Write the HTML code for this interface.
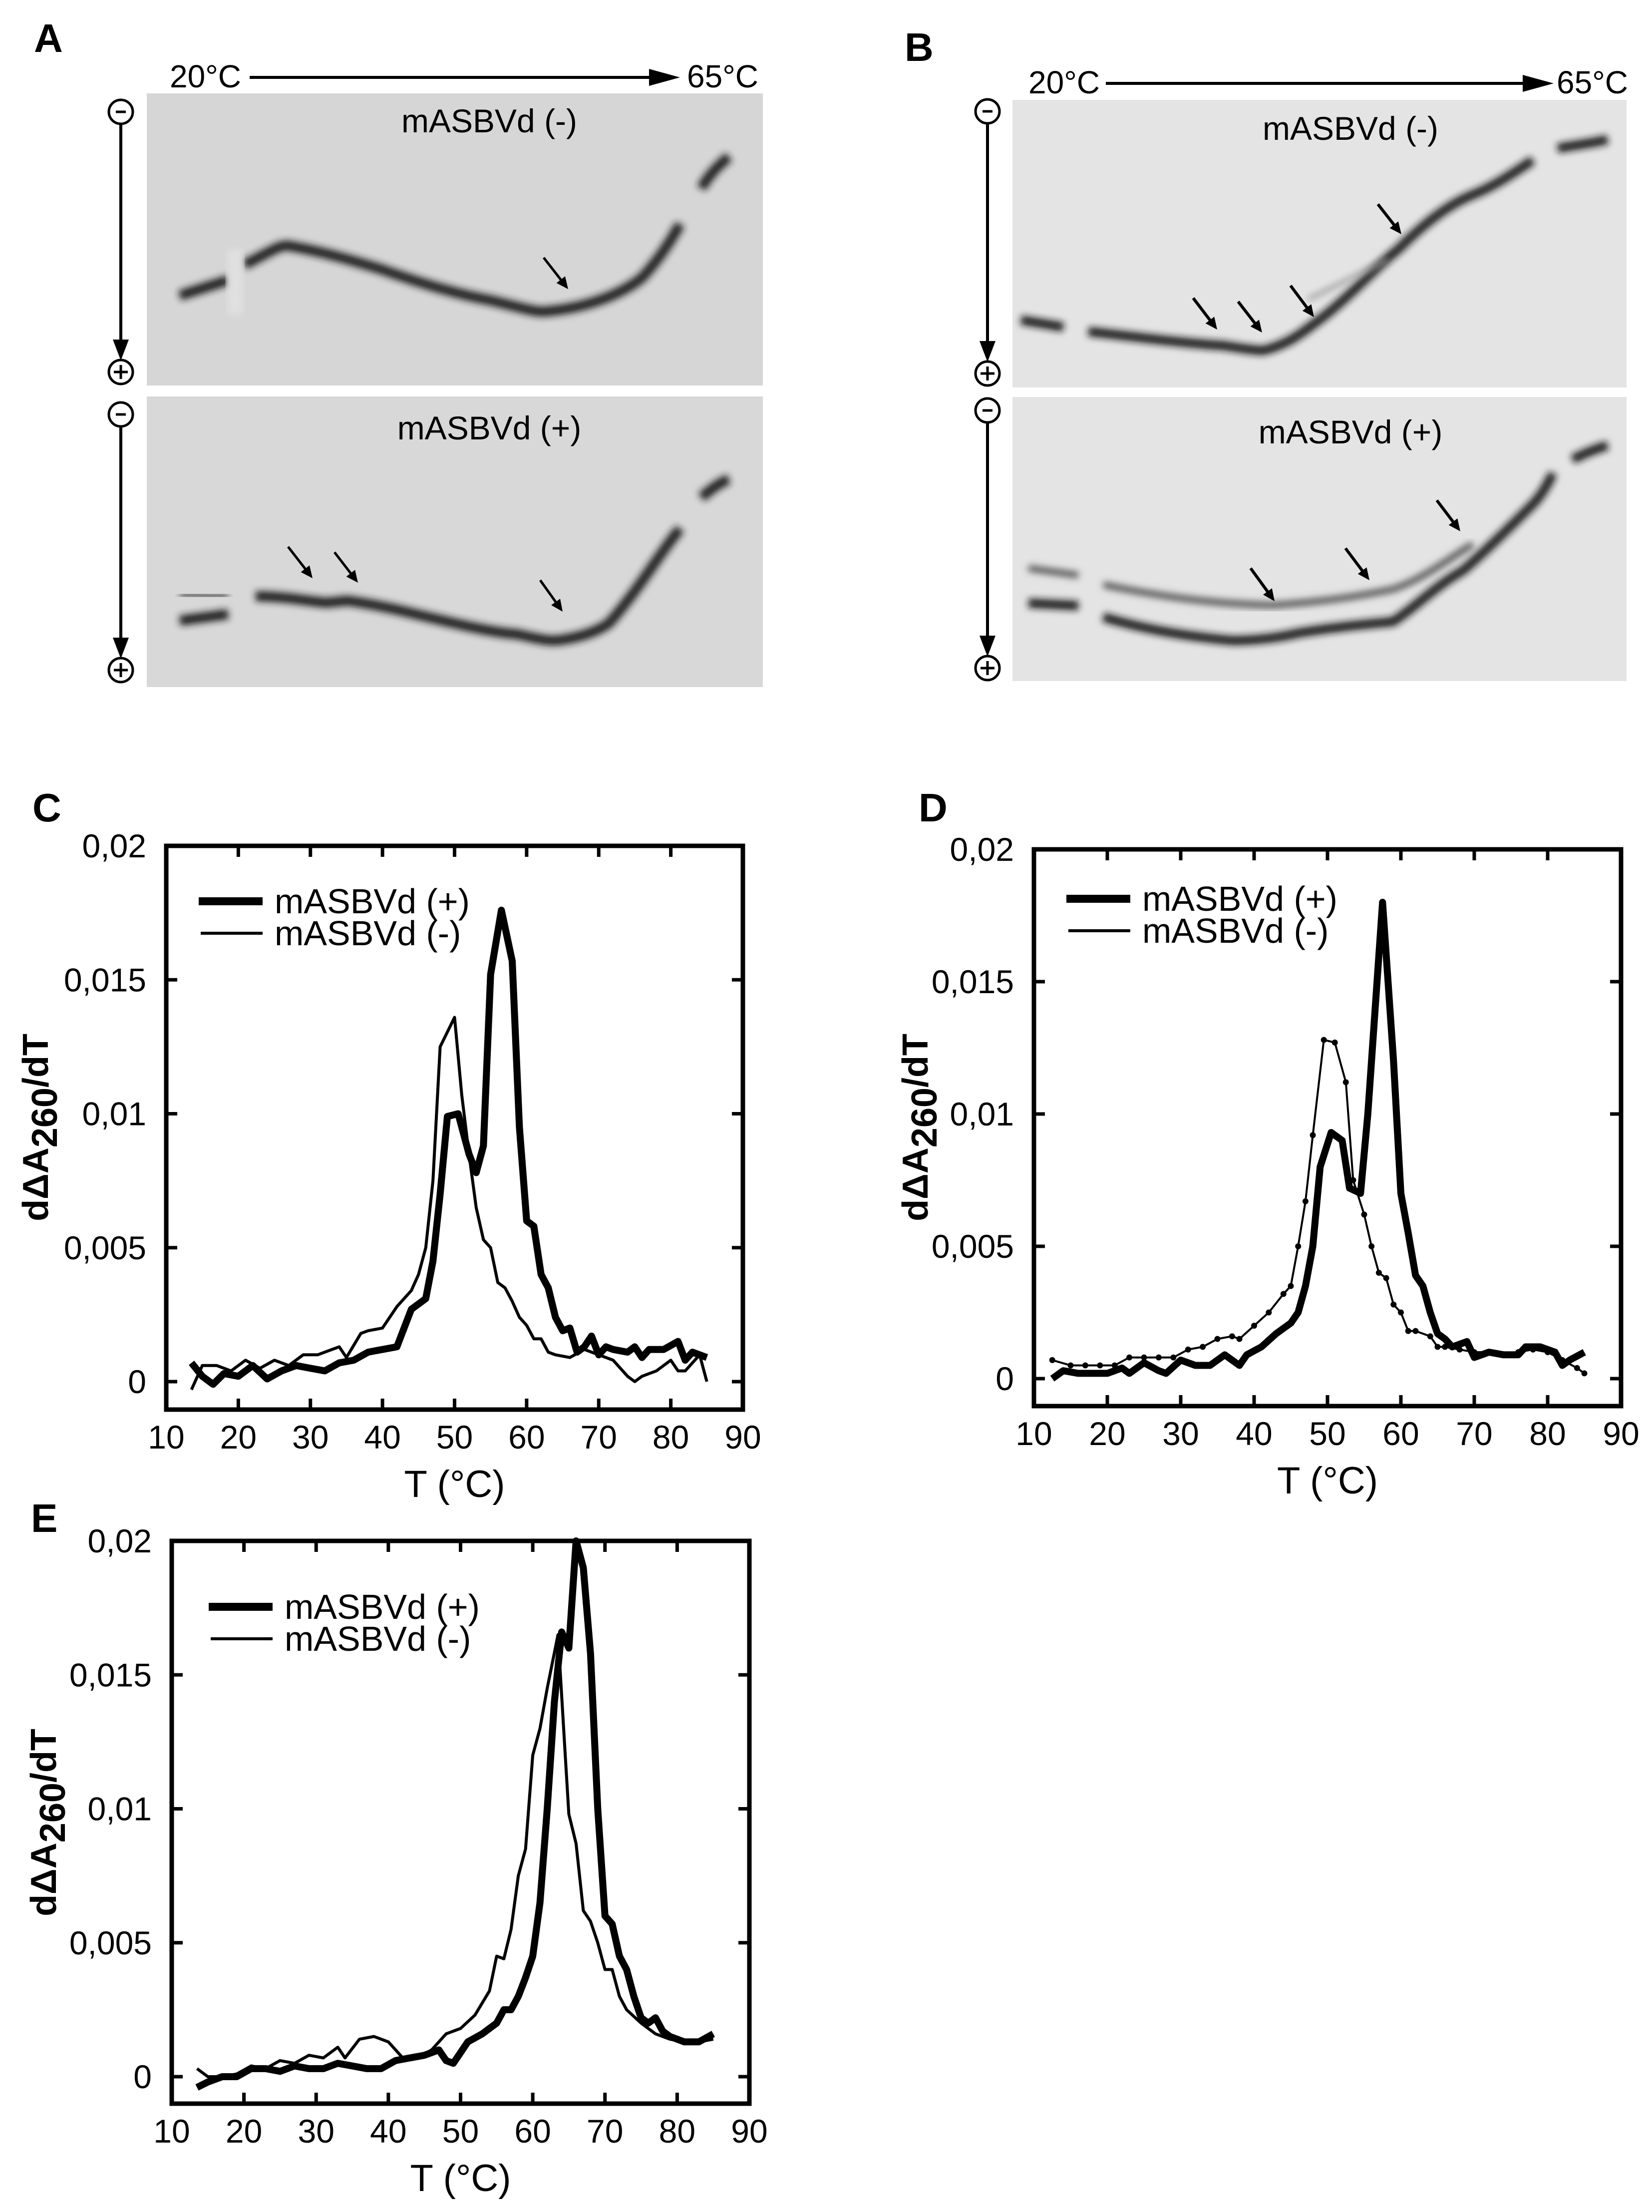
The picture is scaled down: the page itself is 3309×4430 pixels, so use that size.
<!DOCTYPE html>
<html><head><meta charset="utf-8">
<style>
html,body{margin:0;padding:0;background:#fff;}
svg{display:block;font-family:"Liberation Sans",Arial,sans-serif;}
</style></head>
<body>
<svg id="fig" width="3309" height="4430" viewBox="0 0 3309 4430" xmlns="http://www.w3.org/2000/svg">
<defs>
<filter id="blur" x="-10%" y="-10%" width="120%" height="120%"><feGaussianBlur stdDeviation="7"/></filter>
</defs>

<!-- Panel A -->
<g>
<text x="68" y="104" font-size="80" font-weight="bold">A</text>
<text x="340" y="175" font-size="64">20°C</text>
<line x1="500" y1="155" x2="1300" y2="155" stroke="#000" stroke-width="6"/>
<path d="M1300,138 L1362,155 L1300,172 z" fill="#000"/>
<text x="1376" y="175" font-size="64">65°C</text>

<rect x="294" y="187" width="1234" height="585" fill="#d6d6d6"/>
<path d="M360,592 L457,561 M490,530 C540,505 560,490 577,492 C650,505 700,520 763,539 C850,570 920,590 980,601 C1040,615 1070,625 1089,624 C1150,620 1230,600 1285,557 C1320,520 1345,480 1362,449 M1405,377 C1420,350 1440,330 1460,314" stroke="#1a1a1a" stroke-width="20" fill="none" filter="url(#blur)"/>
<rect x="455" y="500" width="32" height="130" fill="#e0e0e0" filter="url(#blur)"/>
<text x="980" y="265" font-size="66" text-anchor="middle">mASBVd (-)</text>
<line class="arr" x1="1089" y1="516" x2="1138" y2="579" stroke="#000" stroke-width="5"/>

<rect x="294" y="794" width="1234" height="582" fill="#d8d8d8"/>
<path d="M360,1243 L457,1230 M512,1194 C580,1195 620,1205 654,1207 C680,1205 690,1203 697,1203 C780,1215 830,1230 871,1239 C950,1258 1000,1268 1035,1270 C1080,1280 1100,1285 1122,1282 C1170,1275 1200,1262 1220,1248 C1280,1180 1320,1110 1362,1059 M1405,996 C1430,975 1445,965 1460,960" stroke="#1a1a1a" stroke-width="20" fill="none" filter="url(#blur)"/>
<path d="M360,1190 L457,1195" stroke="#666" stroke-width="16" fill="none" filter="url(#blur)"/>
<text x="980" y="880" font-size="66" text-anchor="middle">mASBVd (+)</text>
<line class="arr" x1="577" y1="1095" x2="626" y2="1158" stroke="#000" stroke-width="5"/>
<line class="arr" x1="670" y1="1106" x2="717" y2="1167" stroke="#000" stroke-width="5"/>
<line class="arr" x1="1082" y1="1162" x2="1127" y2="1225" stroke="#000" stroke-width="5"/>

<g>
<circle cx="242" cy="224" r="24" fill="#fff" stroke="#000" stroke-width="5"/><line x1="232" y1="224" x2="252" y2="224" stroke="#000" stroke-width="5"/>
<line x1="242" y1="250" x2="242" y2="700" stroke="#000" stroke-width="6"/><path d="M226,680 L242,722 L258,680 z" fill="#000"/>
<circle cx="242" cy="745" r="24" fill="#fff" stroke="#000" stroke-width="5"/><path d="M228,745 H256 M242,731 V759" stroke="#000" stroke-width="5"/>
</g>
<g>
<circle cx="242" cy="830" r="24" fill="#fff" stroke="#000" stroke-width="5"/><line x1="232" y1="830" x2="252" y2="830" stroke="#000" stroke-width="5"/>
<line x1="242" y1="856" x2="242" y2="1297" stroke="#000" stroke-width="6"/><path d="M226,1277 L242,1319 L258,1277 z" fill="#000"/>
<circle cx="242" cy="1342" r="24" fill="#fff" stroke="#000" stroke-width="5"/><path d="M228,1342 H256 M242,1328 V1356" stroke="#000" stroke-width="5"/>
</g>
</g>

<!-- Panel B -->
<g>
<text x="1812" y="122" font-size="80" font-weight="bold">B</text>
<text x="2060" y="187" font-size="64">20°C</text>
<line x1="2215" y1="167" x2="3050" y2="167" stroke="#000" stroke-width="6"/>
<path d="M3050,150 L3112,167 L3050,184 z" fill="#000"/>
<text x="3118" y="187" font-size="64">65°C</text>

<rect x="2028" y="200" width="1230" height="576" fill="#e4e4e4"/>
<path d="M2045,641 L2130,655 M2180,664 C2300,678 2400,690 2450,692 C2500,700 2520,702 2530,702 C2580,690 2610,665 2630,650 C2700,600 2760,530 2800,500 C2850,450 2900,410 2950,390 C3000,370 3040,340 3070,321 M3120,297 C3160,290 3200,285 3220,279" stroke="#151515" stroke-width="18" fill="none" filter="url(#blur)"/>
<path d="M2620,600 C2700,560 2740,540 2780,520" stroke="#999" stroke-width="8" fill="none" filter="url(#blur)"/>
<text x="2705" y="280" font-size="66" text-anchor="middle">mASBVd (-)</text>
<line class="arr" x1="2760" y1="409" x2="2807" y2="469" stroke="#000" stroke-width="6"/>
<line class="arr" x1="2390" y1="597" x2="2438" y2="660" stroke="#000" stroke-width="6"/>
<line class="arr" x1="2480" y1="604" x2="2528" y2="666" stroke="#000" stroke-width="6"/>
<line class="arr" x1="2585" y1="572" x2="2632" y2="635" stroke="#000" stroke-width="6"/>

<rect x="2028" y="795" width="1230" height="569" fill="#e4e4e4"/>
<path d="M2060,1208 L2160,1213 M2210,1236 C2300,1262 2380,1275 2470,1283 C2530,1282 2570,1275 2600,1268 C2680,1255 2740,1250 2790,1245 C2830,1220 2880,1170 2930,1143 C2980,1100 3040,1040 3070,1010 C3090,990 3105,960 3110,948 M3150,920 C3180,905 3200,898 3220,892" stroke="#151515" stroke-width="18" fill="none" filter="url(#blur)"/>
<path d="M2060,1138 L2160,1152 M2210,1171 C2350,1200 2450,1210 2550,1212 C2650,1205 2720,1195 2790,1180 C2850,1160 2900,1120 2950,1090" stroke="#555" stroke-width="13" fill="none" filter="url(#blur)"/>
<text x="2705" y="888" font-size="66" text-anchor="middle">mASBVd (+)</text>
<line class="arr" x1="2878" y1="1002" x2="2925" y2="1064" stroke="#000" stroke-width="6"/>
<line class="arr" x1="2695" y1="1098" x2="2743" y2="1162" stroke="#000" stroke-width="6"/>
<line class="arr" x1="2505" y1="1138" x2="2553" y2="1204" stroke="#000" stroke-width="6"/>

<g>
<circle cx="1978" cy="223" r="24" fill="#fff" stroke="#000" stroke-width="5"/><line x1="1968" y1="223" x2="1988" y2="223" stroke="#000" stroke-width="5"/>
<line x1="1978" y1="249" x2="1978" y2="703" stroke="#000" stroke-width="6"/><path d="M1962,683 L1978,725 L1994,683 z" fill="#000"/>
<circle cx="1978" cy="748" r="24" fill="#fff" stroke="#000" stroke-width="5"/><path d="M1964,748 H1992 M1978,734 V762" stroke="#000" stroke-width="5"/>
</g>
<g>
<circle cx="1978" cy="822" r="24" fill="#fff" stroke="#000" stroke-width="5"/><line x1="1968" y1="822" x2="1988" y2="822" stroke="#000" stroke-width="5"/>
<line x1="1978" y1="848" x2="1978" y2="1293" stroke="#000" stroke-width="6"/><path d="M1962,1273 L1978,1315 L1994,1273 z" fill="#000"/>
<circle cx="1978" cy="1338" r="24" fill="#fff" stroke="#000" stroke-width="5"/><path d="M1964,1338 H1992 M1978,1324 V1352" stroke="#000" stroke-width="5"/>
</g>
</g>

<text x="65" y="1645" font-size="80" font-weight="bold">C</text>
<text x="1840" y="1645" font-size="80" font-weight="bold">D</text>
<text x="62" y="3068" font-size="80" font-weight="bold">E</text>
<g id="charts"></g>
</svg>

<script>
// Panel C
const cPlusT = [13.5,15,16.5,18,20,22,24,26,28,30,32,34,36,38,40,42,43,44,46,47,48,49,50.5,52,53,54,55,56.5,58,59,60,61,62,63,64,65,66,67,68,69,70,71,72,74,75,76,77,79,81,82,83,85];
const cPlusV = [0.0007,0.0002,-0.0001,0.0003,0.0002,0.0006,0.0001,0.0004,0.0006,0.0005,0.0004,0.0007,0.0008,0.0011,0.0012,0.0013,0.002,0.0027,0.0031,0.0045,0.007,0.0099,0.01,0.0085,0.0078,0.0088,0.0152,0.0176,0.0157,0.0095,0.006,0.0058,0.004,0.0035,0.0024,0.0019,0.002,0.0011,0.0013,0.0017,0.001,0.0013,0.0012,0.0011,0.0013,0.0009,0.0012,0.0012,0.0015,0.0008,0.0011,0.0009];
const cMinusT = [13.5,15,17,19,21,23,25,27,29,31,33,34,35,37,38,40,41,42,44,45,46,47,48,50,51,52,53,54,55,56,57,58,59,60,61,62,63,64,66,68,70,72,74,75,76,78,80,81,82,84,85];
const cMinusV = [-0.0003,0.0006,0.0006,0.0004,0.0008,0.0005,0.0008,0.0006,0.001,0.001,0.0012,0.0013,0.0009,0.0018,0.0019,0.002,0.0024,0.0028,0.0034,0.004,0.005,0.0075,0.0125,0.0136,0.0107,0.0085,0.0065,0.0053,0.005,0.0037,0.0035,0.003,0.0024,0.0021,0.0016,0.0016,0.0011,0.001,0.0009,0.0012,0.001,0.0008,0.0002,0.0,0.0002,0.0004,0.0008,0.0004,0.0004,0.001,0.0];
// Panel D
const dPlusT = [12.5,14,16,18,20,22,23,25,27,28,30,32,34,36,38,39,41,43,45,46,47,48,49,50.5,52,53,54.5,55.5,57.5,59,60,61,62,63,64,65,66,67,69,70,72,74,76,77,79,81,82,83,85];
const dPlusV = [0.0,0.0003,0.0002,0.0002,0.0002,0.0004,0.0002,0.0006,0.0003,0.0002,0.0007,0.0005,0.0005,0.0009,0.0005,0.0009,0.0012,0.0017,0.0021,0.0025,0.0035,0.005,0.008,0.0093,0.009,0.0072,0.007,0.01,0.018,0.012,0.007,0.0055,0.0039,0.0035,0.0025,0.0017,0.0015,0.0012,0.0014,0.0008,0.001,0.0009,0.0009,0.0012,0.0012,0.001,0.0005,0.0007,0.001];
const dMinusT = [12.5,15,17,19,21,23,25,27,29,31,33,35,37,38,40,42,44,45,46,47,48,49.5,51,52.5,53.5,55,56,57,58,59,60,61,62,64,65,66,68,70,72,74,76,78,80,82,84,85];
const dMinusV = [0.0007,0.0005,0.0005,0.0005,0.0005,0.0008,0.0008,0.0008,0.0008,0.0011,0.0012,0.0015,0.0016,0.0015,0.002,0.0025,0.0032,0.0035,0.005,0.0067,0.0092,0.0128,0.0127,0.0112,0.0075,0.0062,0.005,0.004,0.0038,0.0028,0.0025,0.0018,0.0018,0.0016,0.0012,0.0012,0.0011,0.001,0.001,0.0009,0.001,0.0011,0.001,0.0007,0.0004,0.0002];
// Panel E
const ePlusT = [13.5,15,17,19,21,23,25,27,29,31,33,35,37,38,39,41,43,45,47,48,49,51,53,55,56,57,58,59,60,61,62,63,64,65,66,67,68,69,70,71,72,73,74,75,76,77,78,79,81,83,85];
const ePlusV = [-0.0004,-0.0002,0.0,0.0,0.0003,0.0003,0.0002,0.0004,0.0003,0.0003,0.0005,0.0004,0.0003,0.0003,0.0003,0.0006,0.0007,0.0008,0.001,0.0006,0.0005,0.0013,0.0016,0.002,0.0025,0.0025,0.003,0.0037,0.0045,0.0065,0.01,0.014,0.0166,0.016,0.02,0.019,0.0158,0.01,0.006,0.0057,0.0045,0.004,0.003,0.0022,0.002,0.0022,0.0017,0.0015,0.0013,0.0013,0.0016];
const eMinusT = [13.5,15,17,19,21,23,25,27,29,31,33,34,36,38,40,42,44,46,48,50,52,54,55,56,57,58,59,60,61,62,63.5,64.5,65,66,67,68,69,70,71,72,73,75,77,79,81,83,85];
const eMinusV = [0.0003,0.0,0.0,0.0001,0.0004,0.0003,0.0006,0.0005,0.0008,0.0007,0.0011,0.0007,0.0014,0.0015,0.0013,0.0007,0.0007,0.001,0.0016,0.0018,0.0023,0.0032,0.0045,0.0044,0.0055,0.0075,0.0085,0.012,0.013,0.0145,0.0165,0.012,0.0098,0.0087,0.0062,0.0058,0.005,0.004,0.004,0.003,0.0025,0.002,0.0016,0.0014,0.0013,0.0013,0.0014];

const xTicks = [10,20,30,40,50,60,70,80,90];
const yTicks = [0,0.005,0.01,0.015,0.02];
const yTickLabels = ["0","0,005","0,01","0,015","0,02"];
const legendLabels = ["mASBVd (+)","mASBVd (-)"];

const NS = "http://www.w3.org/2000/svg";
function mk(tag, attrs, parent){ const e=document.createElementNS(NS,tag); for(const k in attrs) e.setAttribute(k,attrs[k]); parent.appendChild(e); return e; }

// arrowheads for small gel arrows
document.querySelectorAll('line.arr').forEach(l=>{
  const x1=+l.getAttribute('x1'),y1=+l.getAttribute('y1'),x2=+l.getAttribute('x2'),y2=+l.getAttribute('y2');
  const dx=x2-x1,dy=y2-y1,len=Math.hypot(dx,dy),ux=dx/len,uy=dy/len;
  const bx=x2-ux*24,by=y2-uy*24;
  l.setAttribute('x2',bx+ux*4); l.setAttribute('y2',by+uy*4);
  const h=mk('path',{d:`M${x2},${y2} L${bx-uy*11},${by+ux*11} L${bx+uy*11},${by-ux*11} z`,fill:'#000'},l.parentNode);
  
  
});

function chart(id, L, R, T, B, y0, titleX, titleY, plusT, plusV, minusT, minusV, legX, legY, dots){
  const root=document.getElementById('charts');
  const g=mk('g',{},root);
  
  
  const sx=v=>L+(v-10)/80*(R-L);
  const sy=v=>y0-v/0.02*(y0-T);
  const ticks=mk('g',{stroke:'#000','stroke-width':7},g);
  
  
  xTicks.forEach((t,i)=>{
    const x=sx(t);
    if(i>0 && i<xTicks.length-1){ mk('line',{x1:x,y1:B,x2:x,y2:B-22},ticks); mk('line',{x1:x,y1:T,x2:x,y2:T+22},ticks); }
    const lb=mk('text',{x:x,y:B+78,'font-size':66,'text-anchor':'middle'},g);
    lb.textContent=t;
    
    
  });
  yTicks.forEach((t,i)=>{
    const y=sy(t);
    mk('line',{x1:L,y1:y,x2:L+22,y2:y},ticks); mk('line',{x1:R,y1:y,x2:R-22,y2:y},ticks);
    const lb=mk('text',{x:L-40,y:y+23,'font-size':66,'text-anchor':'end'},g);
    lb.textContent=yTickLabels[i];
    
    
  });
  const path=(ts,vs)=>ts.map((t,i)=>(i?'L':'M')+sx(t).toFixed(1)+','+sy(vs[i]).toFixed(1)).join(' ');
  const pm=mk('path',{d:path(minusT,minusV),fill:'none',stroke:'#000','stroke-width':dots?4:6,'stroke-linejoin':'round'},g);
  
  
  if(dots){ minusT.forEach((t,i)=>{ const c=mk('circle',{cx:sx(t),cy:sy(minusV[i]),r:6,fill:'#000'},g);
    
     }); }
  const pp=mk('path',{d:path(plusT,plusV),fill:'none',stroke:'#000','stroke-width':14,'stroke-linejoin':'round'},g);
  
  
  const box=mk('rect',{x:L,y:T,width:R-L,height:B-T,fill:'none',stroke:'#000','stroke-width':9},g);
  
  
  const xt=mk('text',{x:(L+R)/2,y:B+175,'font-size':76,'text-anchor':'middle'},g);
  xt.textContent='T (°C)';
  
  
  const yt=mk('text',{x:0,y:0,'font-size':72,'font-weight':'bold','text-anchor':'middle',transform:`translate(${titleX},${titleY}) rotate(-90)`},g);
  yt.innerHTML='dΔA<tspan dy="18">260</tspan><tspan dy="-18">/dT</tspan>';
  
  
  const leg=mk('g',{},g);
  
  
  mk('line',{x1:legX,y1:legY,x2:legX+128,y2:legY,stroke:'#000','stroke-width':16},leg);
  mk('line',{x1:legX+4,y1:legY+64,x2:legX+128,y2:legY+64,stroke:'#000','stroke-width':6},leg);
  legendLabels.forEach((s,i)=>{ const t=mk('text',{x:legX+152,y:legY+24+i*64,'font-size':70},leg); t.textContent=s;
    
     });
}
chart('c',333,1488,1694,2823,2767,96,2258,cPlusT,cPlusV,cMinusT,cMinusV,398,1805,false);
chart('d',2071,3247,1701,2816,2761,1858,2258,dPlusT,dPlusV,dMinusT,dMinusV,2136,1800,true);
chart('e',344,1501,3086,4213,4159,112,3650,ePlusT,ePlusV,eMinusT,eMinusV,418,3218,false);
</script>
</body></html>
